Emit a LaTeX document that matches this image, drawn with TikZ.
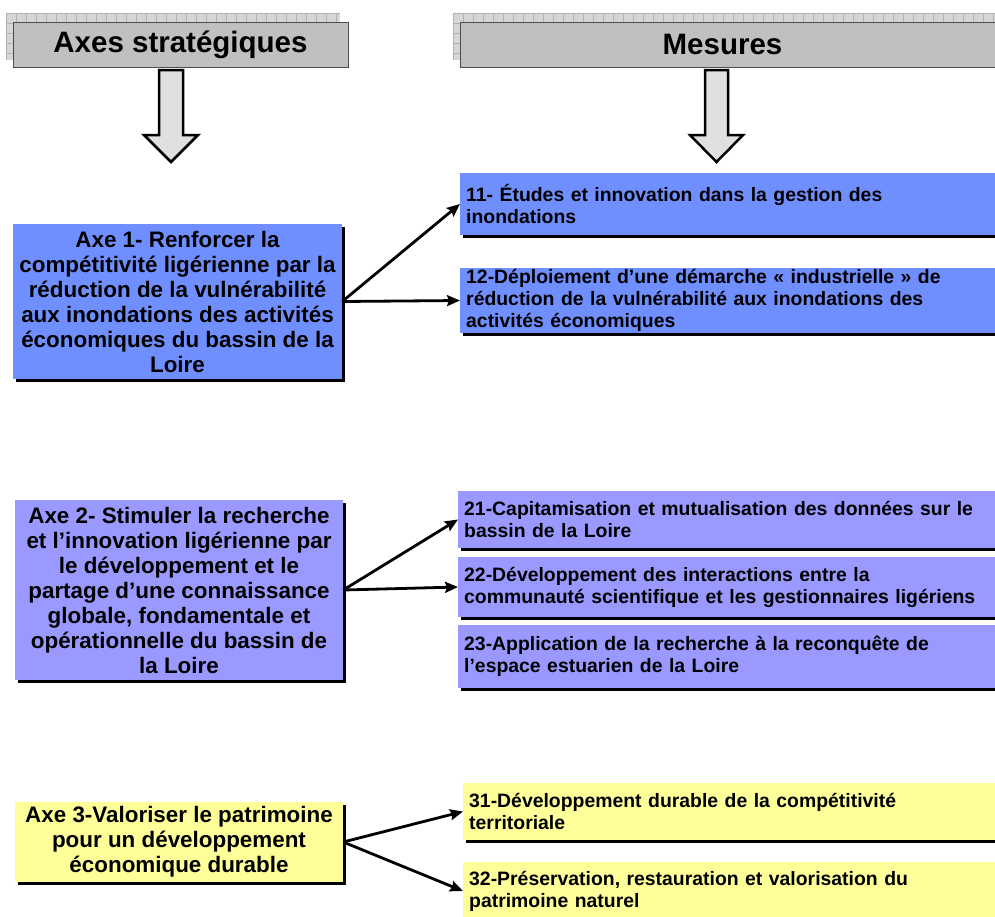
\documentclass[tikz,border=0pt]{standalone}
\usepackage{fontspec}
\setmainfont{Liberation Sans}
\usetikzlibrary{arrows.meta,shadows}
\definecolor{bluebox}{HTML}{6F8FFF}
\definecolor{lavbox}{HTML}{9999FF}
\definecolor{yelbox}{HTML}{FFFF99}
\definecolor{hdrgray}{HTML}{C0C0C0}
\definecolor{arrowgray}{HTML}{E0E0E0}
\definecolor{patbg}{HTML}{D6D6D6}
\definecolor{patline}{HTML}{B2B2B2}
\begin{document}
\begin{tikzpicture}[x=1pt,y=-1pt,
  shadowed/.style={general shadow={fill=black, shadow xshift=3pt, shadow yshift=-3pt}},
  axebox/.style={shadowed, rectangle, inner sep=0pt, align=center,
    font=\bfseries\fontsize{22.4}{25}\selectfont},
  mesbox/.style={shadowed, rectangle, anchor=west, inner xsep=6pt, inner ysep=0pt,
    minimum width=540pt, text width=528pt, align=left,
    font=\bfseries\fontsize{19.4}{22}\selectfont},
  hdr/.style={rectangle, fill=hdrgray, draw=black!70, line width=1pt, inner sep=0pt,
    minimum height=45pt, font=\bfseries\fontsize{29.5}{32}\selectfont},
  pattern box/.style={fill=patbg},
  patgrid/.style={draw=patline, line width=0.6pt},
  conn/.style={line width=2.8pt, -{Stealth[length=13pt,width=11pt,inset=2pt]}},
  blockarrow/.style={fill=arrowgray, draw=black, line width=2.5pt, line join=miter}
]
\useasboundingbox (0,0) rectangle (995,916);

% header patterned backgrounds
\fill[pattern box] (6,13) rectangle (340,60);
\begin{scope}
  \clip (6,13) rectangle (340,60);
  \foreach \x in {6,16,...,346} \draw[patgrid] (\x,13) -- (\x,60);
  \foreach \y in {13,23,...,63} \draw[patgrid] (6,\y) -- (340,\y);
\end{scope}
\fill[pattern box] (453,13) rectangle (1000,60);
\begin{scope}
  \clip (453,13) rectangle (1000,60);
  \foreach \x in {453,463,...,1003} \draw[patgrid] (\x,13) -- (\x,60);
  \foreach \y in {13,23,...,63} \draw[patgrid] (453,\y) -- (1000,\y);
\end{scope}

% headers
\node[hdr, minimum width=335pt] (hdrA) at (180.5,44.5) {Axes stratégiques};
\node[hdr, minimum width=540pt, anchor=west] (hdrM) at (460,44.5) {Mesures\hspace*{16pt}};

% block arrows
\draw[blockarrow] (159,70) -- (183,70) -- (183,135) -- (198,135) -- (171,162)
  -- (144,135) -- (159,135) -- cycle;
\draw[blockarrow] (705,70) -- (728,70) -- (728,135) -- (743,135) -- (716.5,162)
  -- (690,135) -- (705,135) -- cycle;

% axes
\node[axebox, fill=bluebox, minimum width=329pt, minimum height=155pt] (a1) at (177.5,301.5)
  {Axe 1- Renforcer la\\compétitivité ligérienne par la\\réduction de la vulnérabilité\\aux inondations des activités\\économiques du bassin de la\\Loire};
\node[axebox, fill=lavbox, minimum width=328pt, minimum height=180pt] (a2) at (179,590)
  {Axe 2- Stimuler la recherche\\et l’innovation ligérienne par\\le développement et le\\partage d’une connaissance\\globale, fondamentale et\\opérationnelle du bassin de\\la Loire};
\node[axebox, fill=yelbox, minimum width=328pt, minimum height=80pt] (a3) at (179,842)
  {Axe 3-Valoriser le patrimoine\\pour un développement\\économique durable};

% measures
\node[mesbox, fill=bluebox, minimum height=62pt] (m11) at (460,204)
  {11- Études et innovation dans la gestion des\\inondations};
\node[mesbox, fill=bluebox, minimum height=65pt] (m12) at (460,300.5)
  {12-Déploiement d’une démarche « industrielle » de\\réduction de la vulnérabilité aux inondations des\\activités économiques};
\node[mesbox, fill=lavbox, minimum height=57pt] (m21) at (458,519.5)
  {21-Capitamisation et mutualisation des données sur le\\bassin de la Loire};
\node[mesbox, fill=lavbox, minimum height=60pt] (m22) at (458,587)
  {22-Développement des interactions entre la\\communauté scientifique et les gestionnaires ligériens};
\node[mesbox, fill=lavbox, minimum height=63pt] (m23) at (458,656.5)
  {23-Application de la recherche à la reconquête de\\l’espace estuarien de la Loire};
\node[mesbox, fill=yelbox, minimum height=57pt] (m31) at (463,811.5)
  {31-Développement durable de la compétitivité\\territoriale};
\node[mesbox, fill=yelbox, minimum height=58pt] (m32) at (463,891)
  {32-Préservation, restauration et valorisation du\\patrimoine naturel};

% connectors
\draw[conn] (a1.east) -- (m11.west);
\draw[conn] (a1.east) -- (m12.west);
\draw[conn] (a2.east) -- (m21.west);
\draw[conn] (a2.east) -- (m22.west);
\draw[conn] (a3.east) -- (m31.west);
\draw[conn] (a3.east) -- (m32.west);
\end{tikzpicture}
\end{document}
